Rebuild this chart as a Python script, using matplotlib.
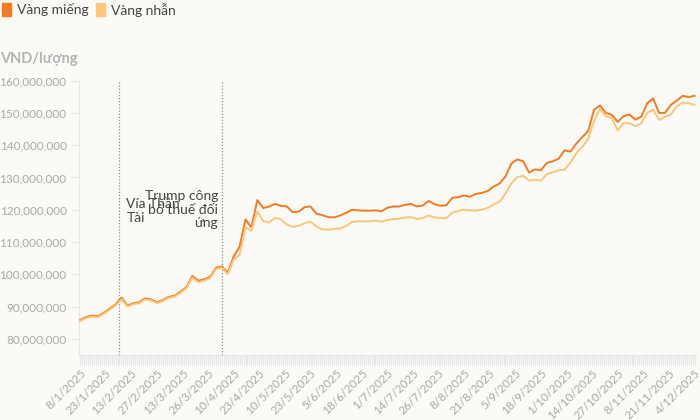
import matplotlib
matplotlib.use("Agg")
import matplotlib.pyplot as plt
from matplotlib.ticker import FixedLocator, FuncFormatter
import numpy as np

plt.rcParams["font.family"] = ["Lato", "Noto Sans", "DejaVu Sans"]

# nhãn trục x: một nhãn cho mỗi 13 phiên
tick_labels = [
    "8/1/2025", "23/1/2025", "13/2/2025", "27/2/2025", "13/3/2025", "26/3/2025",
    "10/4/2025", "23/4/2025", "10/5/2025", "23/5/2025", "5/6/2025", "18/6/2025",
    "1/7/2025", "14/7/2025", "26/7/2025", "8/8/2025", "21/8/2025", "5/9/2025",
    "18/9/2025", "1/10/2025", "14/10/2025", "27/10/2025", "8/11/2025",
    "21/11/2025", "4/12/2025",
]
label_every = 13
n_sessions = 313
sample_step = 3  # giá, cứ 3 phiên một điểm

# giá (triệu đồng/lượng)
mieng = [
    85.8, 86.7, 87.2, 87.0, 88.0, 89.3, 90.6, 92.8, 90.3, 91.0,
    91.3, 92.5, 92.2, 91.3, 92.0, 93.0, 93.3, 94.6, 96.0, 99.5,
    98.0, 98.4, 99.2, 102.0, 102.4, 100.5, 105.5, 108.5, 117.0, 114.5,
    123.0, 120.5, 121.0, 121.8, 121.2, 121.0, 119.2, 119.4, 120.8, 121.0,
    118.8, 118.3, 117.7, 117.6, 118.2, 119.0, 120.0, 119.8, 119.7, 119.7,
    119.8, 119.5, 120.6, 121.0, 121.0, 121.5, 121.8, 121.0, 121.3, 122.7,
    121.7, 121.2, 121.4, 123.7, 123.9, 124.4, 124.0, 124.9, 125.2, 125.8,
    127.2, 128.1, 130.3, 134.3, 135.6, 135.0, 131.5, 132.5, 132.2, 134.5,
    135.0, 135.8, 138.4, 138.0, 140.5, 142.5, 144.4, 151.0, 152.3, 150.0,
    149.4, 147.2, 149.0, 149.5, 147.9, 148.9, 153.0, 154.5, 150.0, 150.0,
    152.5, 153.8, 155.3, 154.9, 155.3,
]
nhan = [
    85.5, 86.4, 86.9, 86.7, 87.7, 89.0, 90.3, 92.2, 90.0, 90.7,
    91.0, 92.2, 91.9, 91.0, 91.7, 92.7, 93.0, 94.3, 95.7, 99.0,
    97.5, 98.0, 98.8, 101.6, 102.0, 100.0, 104.5, 106.0, 114.5, 113.5,
    119.5, 116.5, 116.0, 117.5, 117.0, 115.4, 114.7, 115.0, 115.8, 116.3,
    114.8, 113.9, 113.8, 114.0, 114.2, 114.9, 116.2, 116.4, 116.4, 116.4,
    116.6, 116.3, 116.8, 117.1, 117.2, 117.6, 117.7, 117.1, 117.4, 118.2,
    117.6, 117.4, 117.4, 119.1, 119.6, 120.0, 119.8, 119.7, 120.0, 120.5,
    121.7, 122.4, 125.0, 128.2, 130.1, 130.5, 129.0, 129.3, 129.0, 131.0,
    131.6, 132.2, 132.4, 134.6, 137.5, 139.4, 142.0, 147.5, 151.2, 149.0,
    148.4, 144.6, 146.8, 146.8, 145.9, 146.8, 150.0, 151.0, 147.8, 148.8,
    149.5, 152.0, 153.2, 153.0, 152.5,
]

# sự kiện (phiên thứ ...)
events = [20, 72]
event_texts = ["Vía Thần\nTài", "Trump công\nbố thuế đối\nứng"]

BG = "#fbfaf7"
C_MIENG = "#f47b20"
C_NHAN = "#fdc67a"
GRAY = "#a9a9a9"
LIGHT = "#e6e6e6"

fig = plt.figure(figsize=(7, 4.2), dpi=100, facecolor=BG)
ax = fig.add_axes([0.113, 0.155, 0.882, 0.653])
ax.set_facecolor(BG)

x = np.arange(len(mieng)) * sample_step
ax.plot(x, mieng, color=C_MIENG, lw=1.4, zorder=3, solid_joinstyle="round")
ax.plot(x, nhan, color=C_NHAN, lw=1.4, zorder=4, solid_joinstyle="round")

ax.set_xlim(-0.5, n_sessions)
ax.set_ylim(75, 160)

# đường sự kiện
for ev in events:
    ax.axvline(ev, color="#8c8c8c", lw=0.9, ls=(0, (1, 1.5)), zorder=2)
ax.text(events[0] + 3.5, 123.6, event_texts[0], ha="left", va="top",
        fontsize=10, color="#444444", linespacing=1.15, zorder=5)
ax.text(events[1] - 2.0, 126.0, event_texts[1], ha="right", va="top",
        fontsize=10, color="#444444", linespacing=1.15, zorder=5)

# trục
for s in ["top", "right"]:
    ax.spines[s].set_visible(False)
ax.spines["left"].set_color(LIGHT)
ax.spines["bottom"].set_color(LIGHT)

ax.yaxis.set_major_locator(FixedLocator(np.arange(80, 161, 10)))
ax.yaxis.set_major_formatter(FuncFormatter(lambda v, p: f"{int(v * 1e6):,}"))
ax.tick_params(axis="y", length=6, width=0.8, color=LIGHT, labelcolor=GRAY,
               labelsize=8.5, pad=3)

ax.xaxis.set_major_locator(FixedLocator(np.arange(len(tick_labels)) * label_every))
ax.xaxis.set_minor_locator(FixedLocator(np.arange(n_sessions)))
ax.set_xticklabels(tick_labels, rotation=45, ha="right", va="top",
                   rotation_mode="anchor")
ax.tick_params(axis="x", which="both", length=7, width=0.8, color=LIGHT,
               labelcolor=GRAY, labelsize=8.5, pad=2)

# tiêu đề trục y và chú thích
fig.text(0.0, 0.86, "VND/lượng", fontsize=10.5, fontweight="bold",
         color="#b3b3b3", ha="left", va="center")

fig.patches.append(plt.Rectangle((0.003, 0.962), 0.013, 0.031, transform=fig.transFigure,
                                 color=C_MIENG, figure=fig))
fig.text(0.024, 0.977, "Vàng miếng", fontsize=10, color="#444444", ha="left", va="center")
fig.patches.append(plt.Rectangle((0.137, 0.962), 0.013, 0.031, transform=fig.transFigure,
                                 color=C_NHAN, figure=fig))
fig.text(0.158, 0.977, "Vàng nhẫn", fontsize=10, color="#444444", ha="left", va="center")

fig.savefig("out.png", dpi=100, facecolor=BG)
